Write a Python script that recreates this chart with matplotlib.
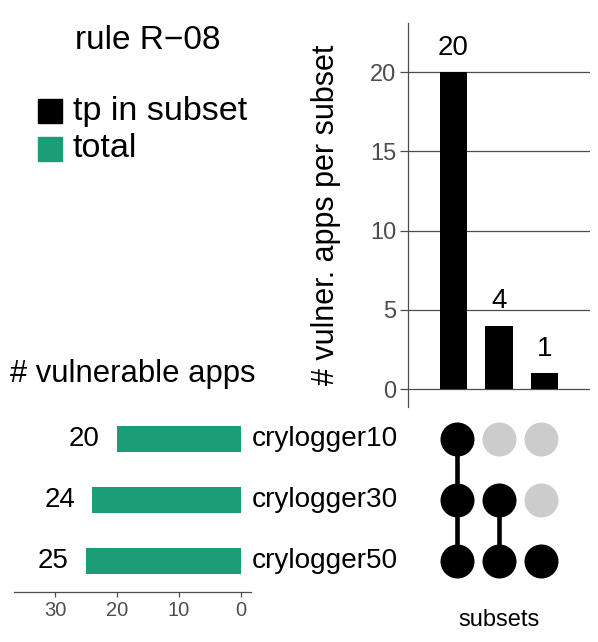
import matplotlib.pyplot as plt
from matplotlib.patches import Rectangle

plt.rcParams['font.family'] = ['Liberation Sans', 'DejaVu Sans']

# データ
set_names = ['crylogger10', 'crylogger30', 'crylogger50']
set_totals = [20, 24, 25]
subset_counts = [20, 4, 1]
# 各サブセット列に含まれるセット (1 = 含む)
membership = [
    [1, 1, 1],  # 列1
    [0, 1, 1],  # 列2
    [0, 0, 1],  # 列3
]
legend_labels = ['tp in subset', 'total']
title = 'rule R\u221208'

GREEN = '#1B9E77'
GRAY = '#4D4D4D'
LIGHT = '#CCCCCC'

W, H = 598, 642
fig = plt.figure(figsize=(W / 100, H / 100), dpi=100)


def box(x0, y0, x1, y1):
    # ピクセル座標 (左上原点) -> figure 座標
    return [x0 / W, 1 - y1 / H, (x1 - x0) / W, (y1 - y0) / H]


rows = [3, 2, 1]  # crylogger10 が上
cols = [1, 2, 3]

# 上: サブセットの棒グラフ
ax_bar = fig.add_axes(box(407.7, 23, 590, 407))
ax_bar.bar(cols, subset_counts, width=0.6, color='black', zorder=3)
for c, v in zip(cols, subset_counts):
    ax_bar.annotate(str(v), (c, v), xytext=(0, 12.5), textcoords='offset points',
                    ha='center', va='baseline', fontsize=20)
ax_bar.set_xlim(0.0, 4.0)
ax_bar.set_ylim(-1.12, 23.1)
ax_bar.set_yticks([0, 5, 10, 15, 20])
ax_bar.yaxis.grid(True, color=GRAY, lw=0.9, zorder=0)
ax_bar.set_axisbelow(True)
ax_bar.set_xticks([])
for s in ['top', 'right', 'bottom']:
    ax_bar.spines[s].set_visible(False)
ax_bar.spines['left'].set_color(GRAY)
ax_bar.spines['left'].set_linewidth(0.9)
ax_bar.tick_params(axis='y', colors=GRAY, labelsize=17, length=6, width=0.9, pad=2)
fig.text(326 / W, 1 - 215 / H, '# vulner. apps per subset', rotation=90,
         ha='center', va='center', fontsize=22)

# 下右: マトリクス
ax_m = fig.add_axes(box(407.7, 408.5, 590, 591.5))
for c, mem in zip(cols, membership):
    on = [r for r, m in zip(rows, mem) if m]
    off = [r for r, m in zip(rows, mem) if not m]
    ax_m.scatter([c] * len(off), off, s=600, color=LIGHT, lw=0, zorder=2)
    ax_m.scatter([c] * len(on), on, s=600, color='black', lw=0, zorder=3)
    if len(on) > 1:
        ax_m.plot([c, c], [min(on), max(on)], color='black', lw=3.3, zorder=2.5)
ax_m.set_xlim(-0.156, 4.149)
ax_m.set_ylim(0.5, 3.5)
ax_m.axis('off')
fig.text(498.7 / W, 1 - 620 / H, 'subsets', ha='center', va='center', fontsize=17)

# 下左: セットの合計
ax_l = fig.add_axes(box(14, 408.5, 250.7, 591.5))
ax_l.barh(rows, set_totals, height=0.42, color=GREEN)
for r, v in zip(rows, set_totals):
    ax_l.annotate(str(v), (v, r), xytext=(-12.2, 0), textcoords='offset points',
                  ha='right', va='center', fontsize=20)
ax_l.set_xlim(36.6, -1.6)
ax_l.set_ylim(0.5, 3.5)
ax_l.set_xticks([0, 10, 20, 30])
ax_l.set_yticks([])
for s in ['top', 'right', 'left']:
    ax_l.spines[s].set_visible(False)
ax_l.spines['bottom'].set_color(GRAY)
ax_l.spines['bottom'].set_linewidth(0.9)
ax_l.tick_params(axis='x', colors=GRAY, labelsize=14.5, length=3.6, width=0.9, pad=3)
for r, name in zip(rows, set_names):
    ax_l.annotate(name, (1, r), xycoords=('axes fraction', 'data'),
                  xytext=(1, 0), textcoords='offset points',
                  ha='left', va='center', fontsize=20.2, annotation_clip=False)
fig.text(10 / W, 1 - 374 / H, '# vulnerable apps', ha='left', va='center', fontsize=22.3)

# タイトルと凡例
fig.text(148 / W, 1 - 49 / H, title, ha='center', va='baseline', fontsize=24)
for i, (lab, col) in enumerate(zip(legend_labels, ['black', GREEN])):
    y0 = 99.3 + i * 37.4
    fig.patches.append(Rectangle((38 / W, 1 - (y0 + 24) / H), 24 / W, 24 / H,
                                 transform=fig.transFigure, color=col))
    fig.text(72.7 / W, 1 - (y0 + 12) / H, lab, ha='left', va='center', fontsize=24.6)

fig.savefig('out.png', dpi=100)
